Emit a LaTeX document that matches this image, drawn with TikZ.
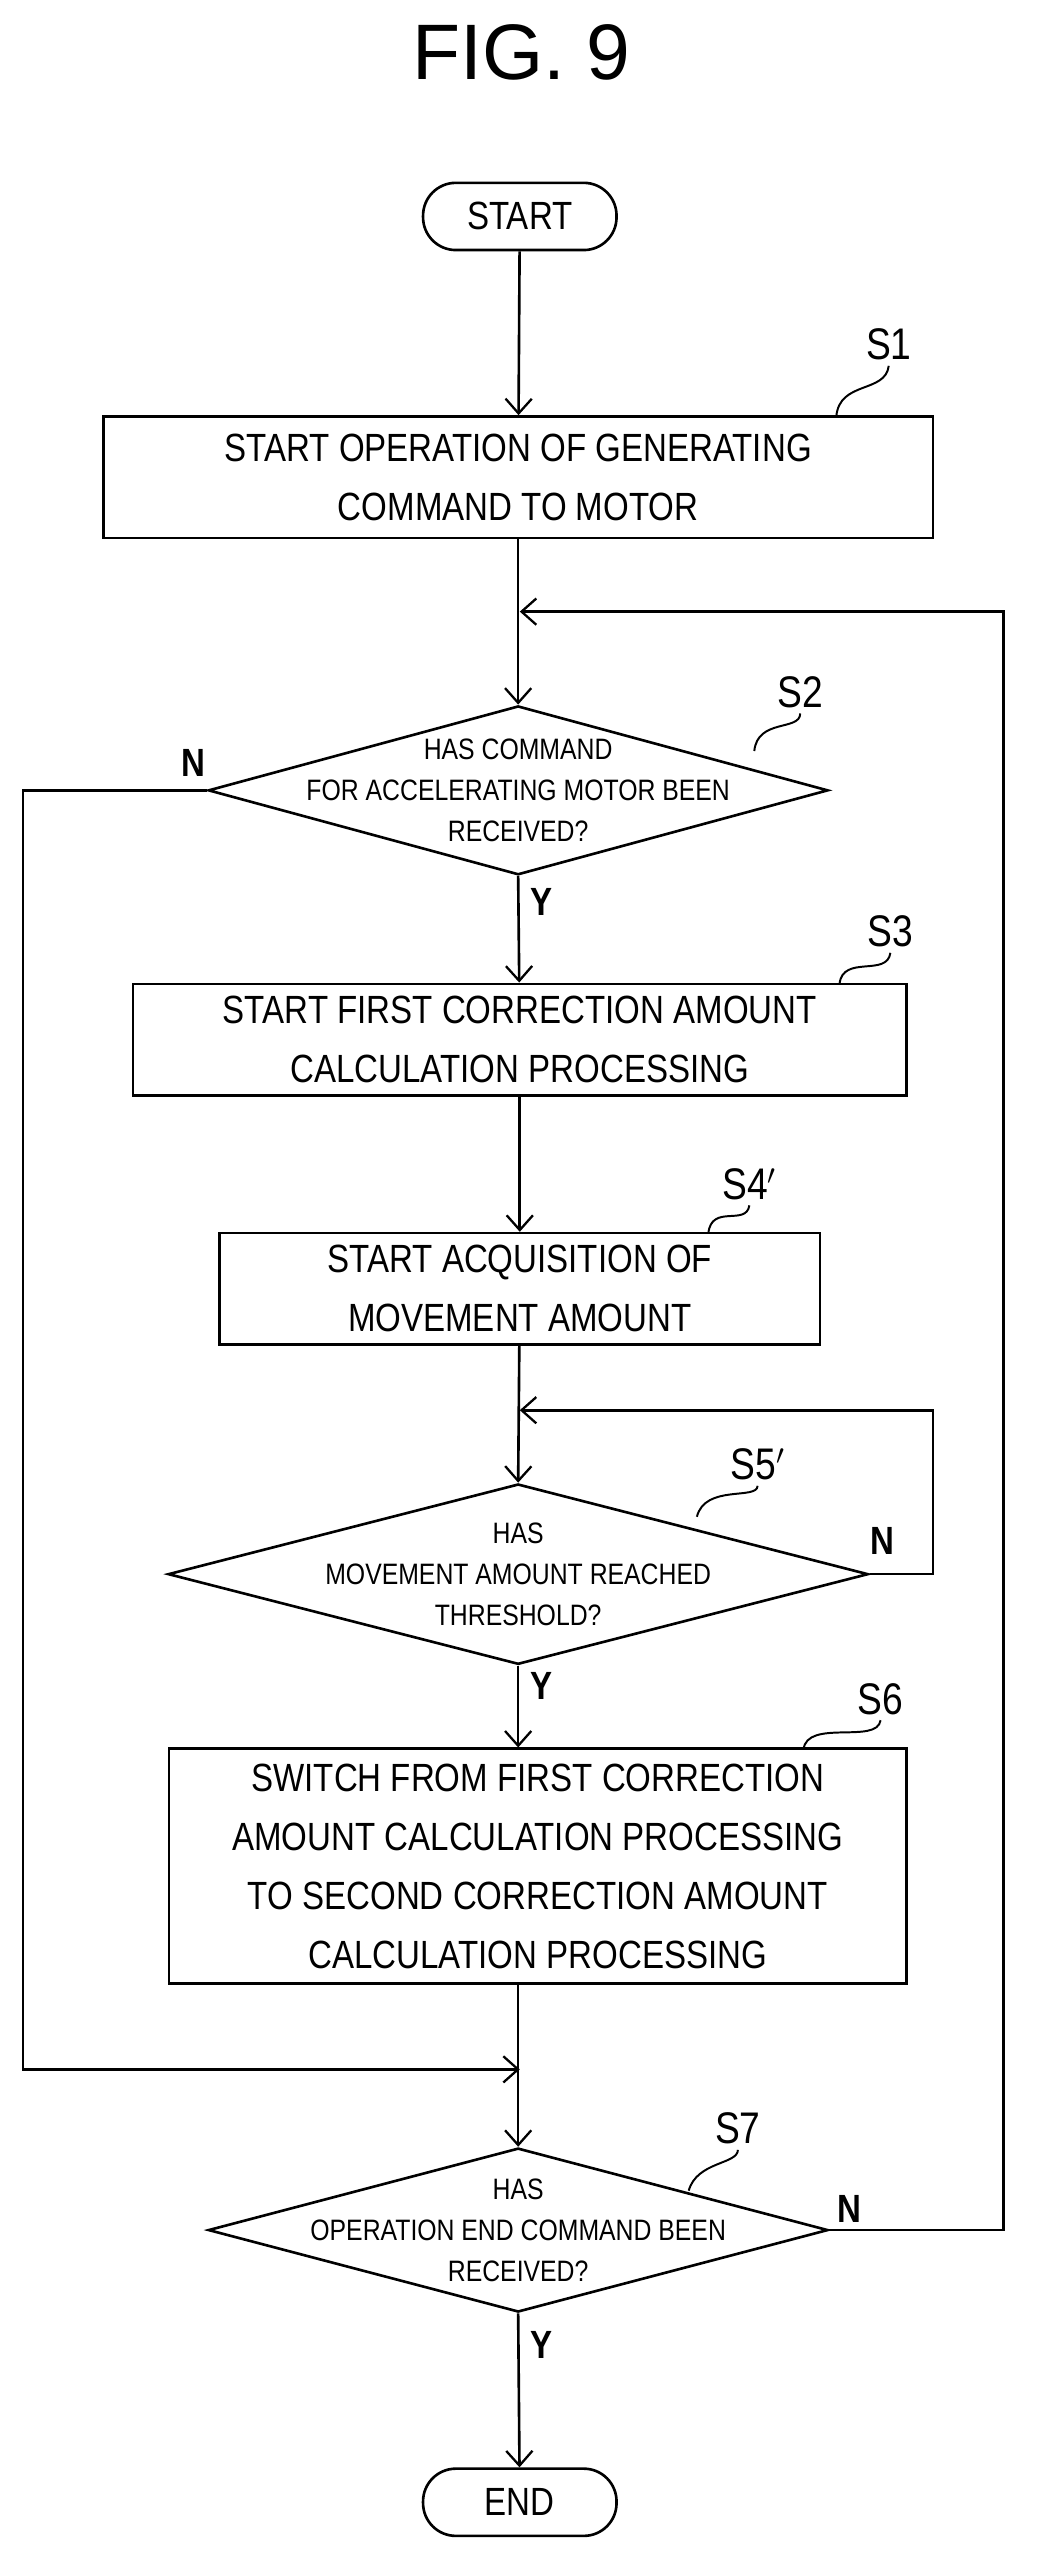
\documentclass[tikz,border=0pt]{standalone}
\usepackage{fontspec}
\setmainfont{Liberation Sans}[FakeStretch=0.84]
\newfontfamily\titlefont{Liberation Sans}
\usetikzlibrary{shapes.geometric,arrows.meta}
\tikzset{
  box/.style={draw,line width=1.6pt,minimum width=#1,minimum height=68pt,align=center,inner sep=0pt,font=\fontsize{24}{36}\selectfont},
  term/.style={draw,line width=1.6pt,rounded corners=20pt,minimum width=118pt,minimum height=41pt,font=\fontsize{24}{28}\selectfont},
  dec/.style={draw,diamond,line width=1.6pt,inner sep=0pt},
  dtext/.style={align=center,font=\fontsize{18}{25}\selectfont},
  steplabel/.style={font=\fontsize{27}{30}\selectfont},
  yn/.style={font=\bfseries\fontsize{24}{26}\selectfont},
  flow/.style={line width=1.6pt,-{Straight Barb[length=9pt,width=16pt,line width=1.4pt]}},
  lead/.style={line width=1.2pt}
}
\begin{document}
\begin{tikzpicture}[x=1pt,y=-1pt]
\useasboundingbox (0,0) rectangle (633,1560);
\node[font=\titlefont\fontsize{48}{50}\selectfont] (fig) at (318,32) {FIG. 9};

\node[term] (start) at (317,132) {START};
\node[box=506pt,minimum height=74pt] (s1) at (316,291) {START OPERATION OF GENERATING\\COMMAND TO MOTOR};
\node[dec,minimum width=378pt,minimum height=103pt] (s2) at (316,482) {};
\node[dtext] (t2) at (316,482) {HAS COMMAND\\FOR ACCELERATING MOTOR BEEN\\RECEIVED?};
\node[box=472pt] (s3) at (317,634) {START FIRST CORRECTION AMOUNT\\CALCULATION PROCESSING};
\node[box=366pt] (s4) at (317,786) {START ACQUISITION OF\\MOVEMENT AMOUNT};
\node[dec,minimum width=427pt,minimum height=110pt] (s5) at (316,960) {};
\node[dtext] (t5) at (316,960) {HAS\\MOVEMENT AMOUNT REACHED\\THRESHOLD?};
\node[box=450pt,minimum height=143pt] (s6) at (328,1138) {SWITCH FROM FIRST CORRECTION\\AMOUNT CALCULATION PROCESSING\\TO SECOND CORRECTION AMOUNT\\CALCULATION PROCESSING};
\node[dec,minimum width=378pt,minimum height=100pt] (s7) at (316,1360) {};
\node[dtext] (t7) at (316,1360) {HAS\\OPERATION END COMMAND BEEN\\RECEIVED?};
\node[term] (end) at (317,1526) {END};

% step labels
\node[steplabel] (l1) at (542,210) {S1};
\node[steplabel] (l2) at (488,422) {S2};
\node[steplabel] (l3) at (543,568) {S3};
\node[steplabel] (l4) at (457,722) {S4$'$};
\node[steplabel] (l5) at (462,893) {S5$'$};
\node[steplabel] (l6) at (537,1036) {S6};
\node[steplabel] (l7) at (450,1298) {S7};
\draw[lead] (510,254) .. controls (512,232) and (540,240) .. (l1.south);
\draw[lead] (460,458) .. controls (462,438) and (488,446) .. (l2.south);
\draw[lead] (512,600) .. controls (514,582) and (541,596) .. (l3.south);
\draw[lead] (432,752) .. controls (434,734) and (455,748) .. (l4.south);
\draw[lead] (425,925) .. controls (430,905) and (462,915) .. (l5.south);
\draw[lead] (490,1067) .. controls (492,1048) and (535,1064) .. (l6.south);
\draw[lead] (420,1336) .. controls (425,1318) and (450,1320) .. (l7.south);

% Y / N
\node[yn] (n2) at (118,465) {N};
\node[yn] (y2) at (330,550) {Y};
\node[yn] (n5) at (538,940) {N};
\node[yn] (y5) at (330,1028) {Y};
\node[yn] (n7) at (518,1347) {N};
\node[yn] (y7) at (330,1430) {Y};

% main flow
\draw[flow] (start) -- (s1);
\draw[flow] (s1) -- (s2.north);
\draw[flow] (s2.south) -- (s3);
\draw[flow] (s3) -- (s4);
\draw[flow] (s4) -- (s5.north);
\draw[flow] (s5.south) -- (s5.south |- s6.north);
\draw[flow] (s5.south |- s6.south) -- (s7.north);
\draw[flow] (s7.south) -- (end);

% loops
\coordinate (r1) at (317,373);
\coordinate (r5) at (317,860);
\coordinate (m7) at (317,1262);
\draw[flow] (s7.east) -- (612,1360) -- (612,373) -- (r1);
\draw[flow] (s5.east) -- (569,960) -- (569,860) -- (r5);
\draw[flow] (s2.west) -- (14,482) -- (14,1262) -- (m7);
\end{tikzpicture}
\end{document}
